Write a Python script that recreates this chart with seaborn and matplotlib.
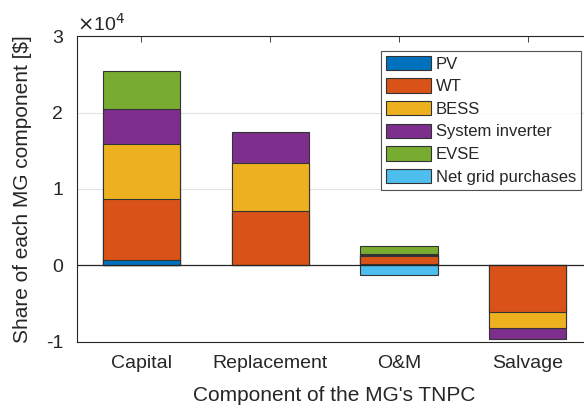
import numpy as np
import pandas as pd
import matplotlib
matplotlib.use("Agg")
import matplotlib.pyplot as plt
import seaborn as sns
from matplotlib.patches import Patch
from matplotlib.ticker import FuncFormatter

categories = ["Capital", "Replacement", "O&M", "Salvage"]
series_names = ["PV", "WT", "BESS", "System inverter", "EVSE", "Net grid purchases"]
pv = [700, 0, 100, 0]
wt = [7940, 7110, 1050, -6150]
bess = [7240, 6240, 250, -2100]
inverter = [4580, 4140, 100, -1400]
evse = [5010, 0, 950, 0]
net_grid = [0, 0, -1300, 0]
yticks = [-10000, 0, 10000, 20000, 30000]
colors = ["#0072BD", "#D95319", "#EDB120", "#7E2F8E", "#77AC30", "#4DBEEE"]

sns.set_theme(style="white")
plt.rcParams["font.family"] = ["Liberation Sans", "DejaVu Sans"]
plt.rcParams["axes.unicode_minus"] = False

fig = plt.figure(figsize=(5.84, 4.11), dpi=100)
ax = fig.add_axes([0.132, 0.169, 0.882, 0.743])

series = [pv, wt, bess, inverter, evse, net_grid]
vals = np.array(series, dtype=float)
pos = np.where(vals > 0, vals, 0)
neg = np.where(vals < 0, vals, 0)
cum_pos = np.cumsum(pos, axis=0)
cum_neg = np.cumsum(neg, axis=0)

for sign, cum in ((1, cum_pos), (-1, cum_neg)):
    for i in range(len(series) - 1, -1, -1):
        layer = vals[i]
        heights = [cum[i][j] if layer[j] * sign > 0 else np.nan for j in range(len(categories))]
        if np.all(np.isnan(heights)):
            continue
        df = pd.DataFrame({"cat": categories, "val": heights})
        sns.barplot(data=df, x="cat", y="val", order=categories, color=colors[i],
                    saturation=1, width=0.6, edgecolor="#333333", linewidth=0.8,
                    errorbar=None, ax=ax)

ax.axhline(0, color="#262626", lw=0.9, zorder=3)
ax.set_xlim(-0.5, 3.5)
ax.set_ylim(-10000, 30000)
ax.set_yticks(yticks)
ax.yaxis.set_major_formatter(FuncFormatter(lambda v, p: "%g" % (v / 1e4)))
ax.text(0.0, 1.005, r"$\times$10$^{4}$", transform=ax.transAxes, fontsize=14,
        color="#262626", ha="left", va="bottom")
ax.grid(axis="y", color="#e3e3e3", lw=0.8)
ax.set_axisbelow(True)
for s in ax.spines.values():
    s.set_color("#262626")
    s.set_linewidth(0.8)
ax.tick_params(axis="both", direction="in", labelsize=14, colors="#262626",
               top=True, right=True, length=4, width=0.6)
ax.tick_params(axis="x", pad=10)
ax.tick_params(axis="y", length=0, pad=10)
ax.set_xlabel("Component of the MG's TNPC", fontsize=15, color="#262626", labelpad=10)
ax.set_ylabel("Share of each MG component [$]", fontsize=15, color="#262626", labelpad=10)

handles = [Patch(facecolor=c, edgecolor="#333333", linewidth=0.8, label=n)
           for c, n in zip(colors, series_names)]
leg = ax.legend(handles=handles, loc="upper left", bbox_to_anchor=(0.590, 0.952),
                fontsize=12, frameon=True, fancybox=False, edgecolor="#262626",
                handlelength=2.7, handleheight=0.95, labelspacing=0.4,
                handletextpad=0.3, borderpad=0.3, borderaxespad=0)
leg.get_frame().set_linewidth(0.8)

fig.savefig("out.png", dpi=100)
